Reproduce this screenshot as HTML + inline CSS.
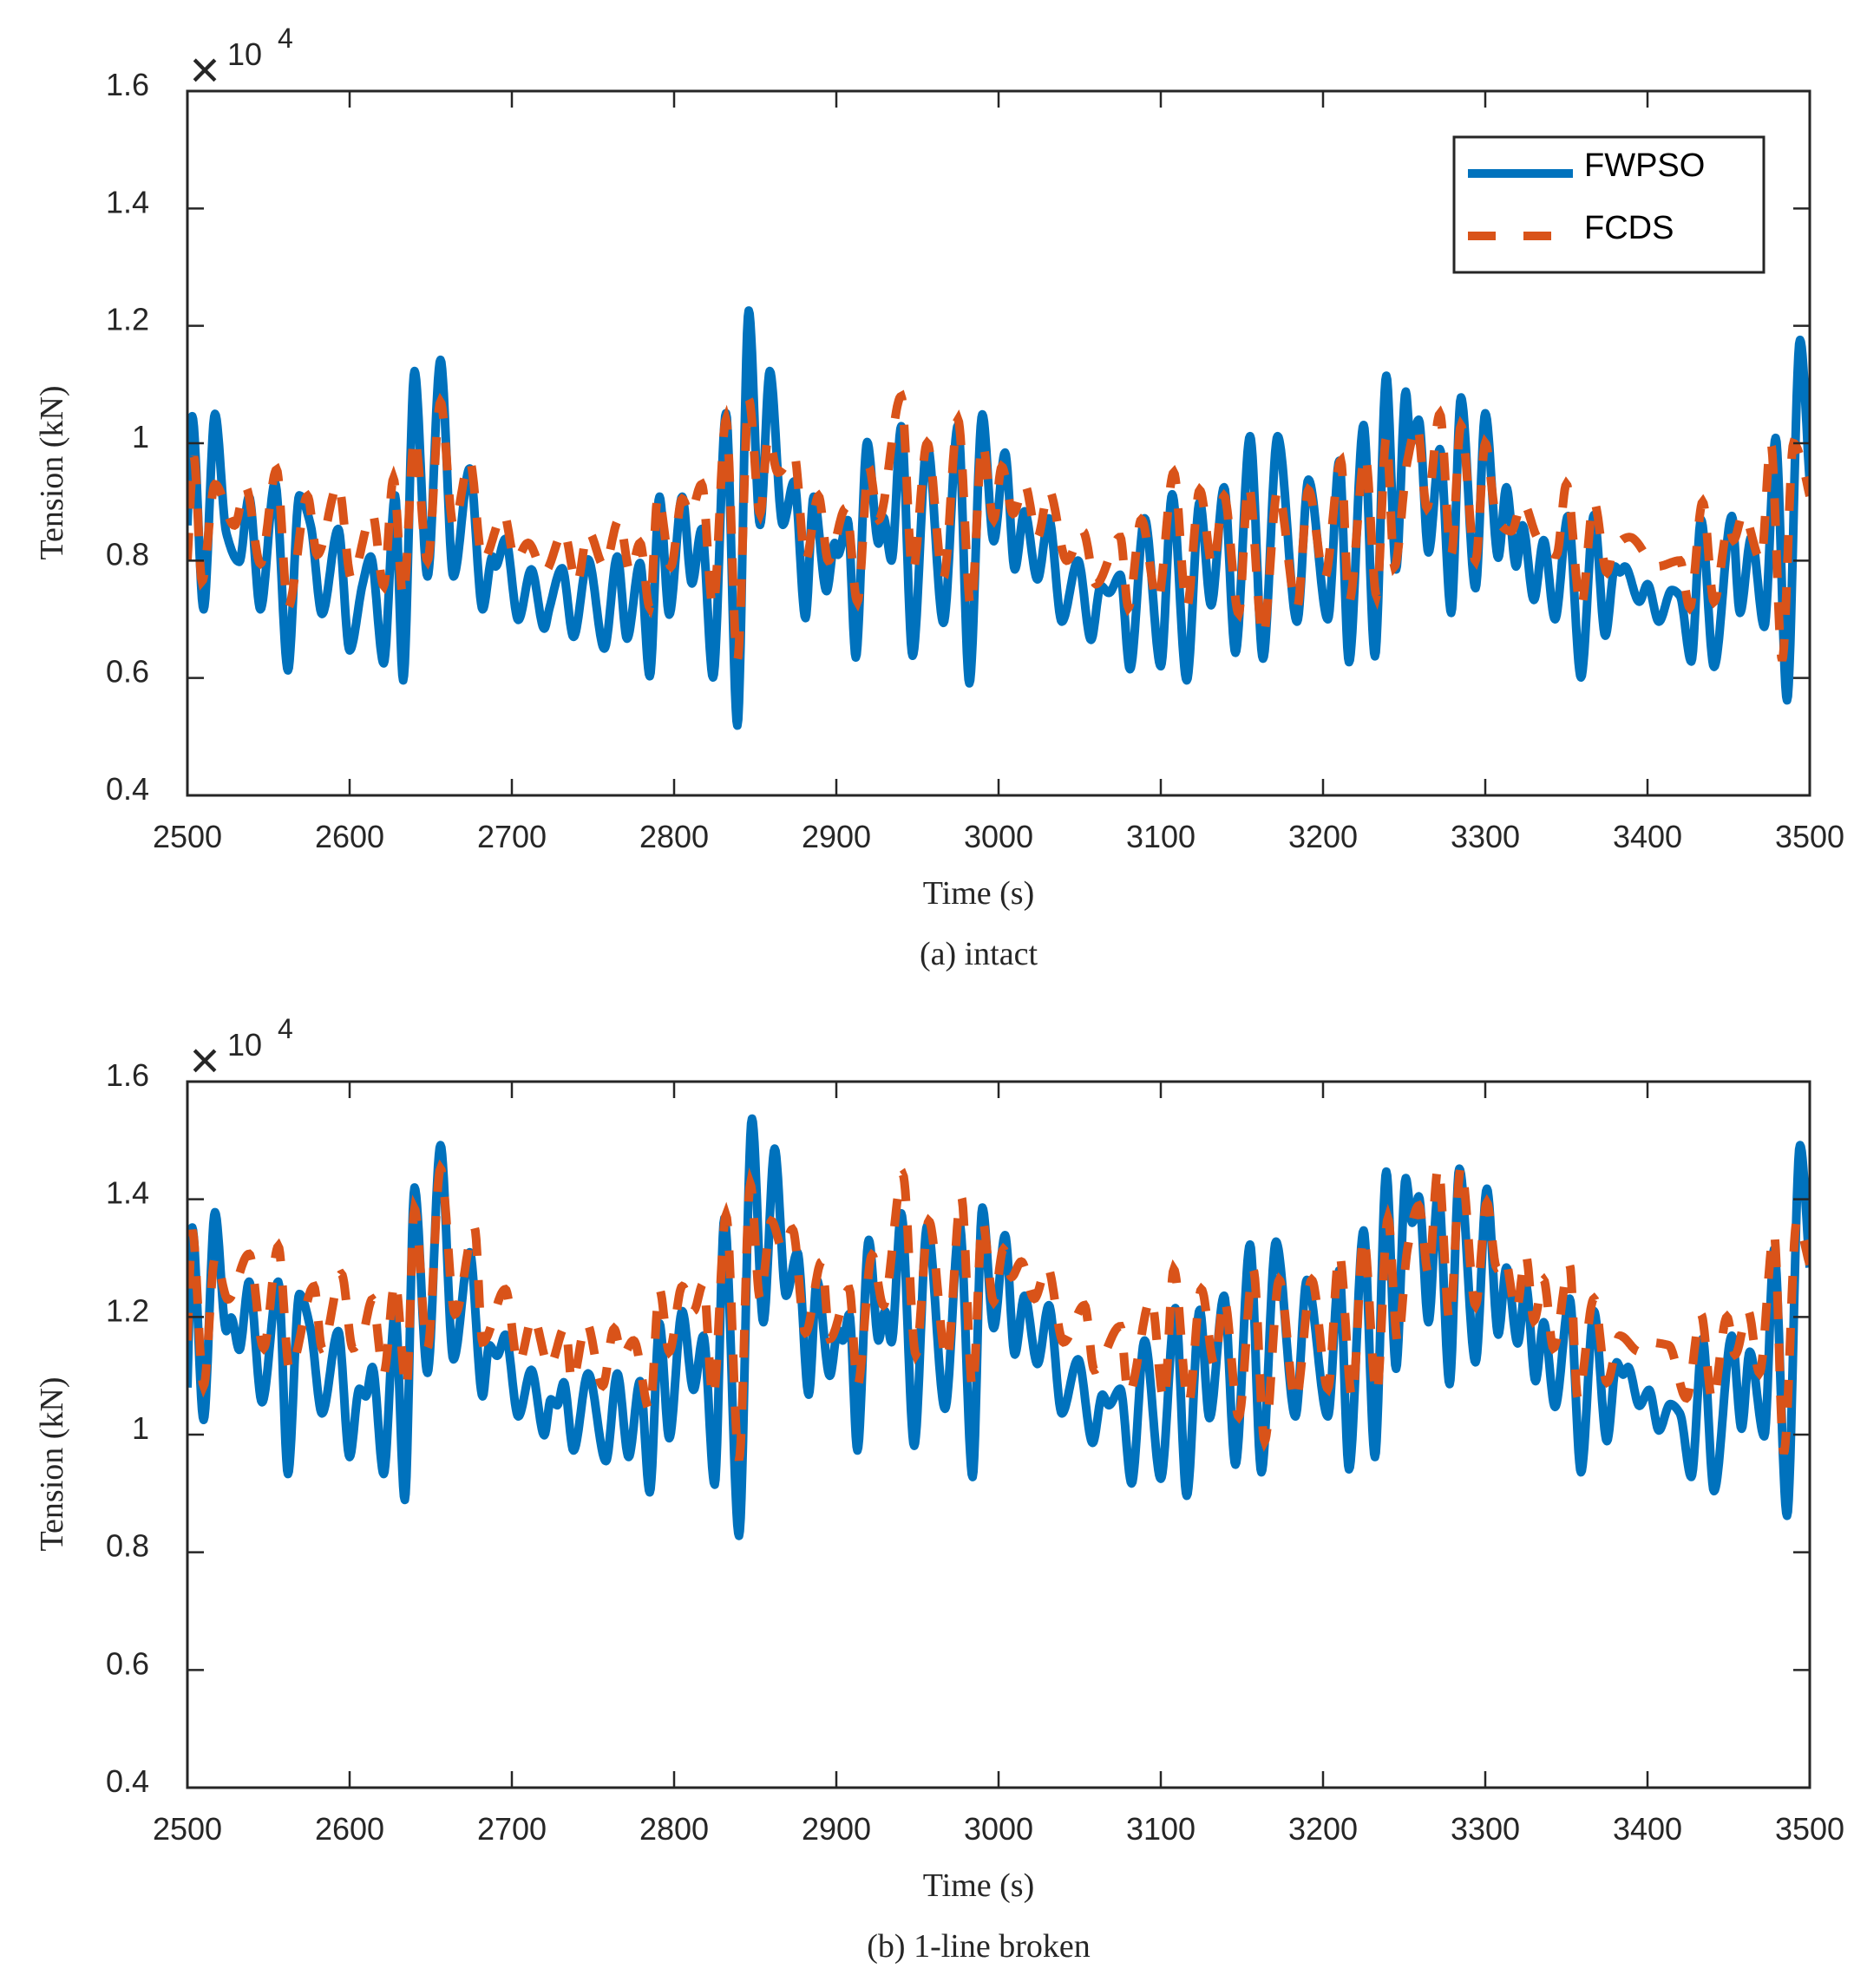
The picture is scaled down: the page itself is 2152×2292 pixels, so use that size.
<!DOCTYPE html>
<html><head><meta charset="utf-8"><style>
html,body{margin:0;padding:0;background:#fff;}
svg{display:block;}
.tk{font-family:"Liberation Sans",sans-serif;font-size:36px;fill:#262626;}
.sf{font-family:"Liberation Serif",serif;font-size:38px;fill:#262626;}
</style></head><body>
<svg id="fig" width="2152" height="2292" viewBox="0 0 2152 2292" xmlns="http://www.w3.org/2000/svg">
<rect width="2152" height="2292" fill="#fff"/>
<g id="panelA"></g>
<g id="panelB"></g>
</svg>
<script>
// ---- Panel (a) intact ----
const tA_blue = [2500,2503,2510,2517,2524,2532,2538,2545,2554,2562,2569,2576,2583,2593,2600,2608,2613,2621,2628,2633,2640,2648,2656,2664,2674,2682,2688,2690,2696,2704,2712,2720,2723,2731,2738,2747,2757,2765,2771,2779,2785,2791,2797,2805,2811,2817,2824,2832,2839,2846,2853,2859,2867,2874,2881,2886,2894,2899,2901,2907,2912,2919,2926,2929,2934,2940,2947,2956,2966,2975,2982,2990,2997,3004,3010,3016,3024,3031,3039,3049,3057,3063,3068,3075,3081,3090,3100,3107,3116,3124,3131,3139,3146,3155,3163,3172,3184,3191,3203,3210,3216,3225,3232,3239,3245,3251,3254,3259,3265,3272,3279,3285,3294,3300,3308,3313,3319,3323,3330,3336,3343,3351,3359,3367,3374,3380,3383,3386,3395,3400,3407,3415,3420,3427,3433,3441,3452,3457,3464,3472,3479,3486,3494,3500];
const vA_blue = [0.86,1.046,0.717,1.05,0.847,0.798,0.909,0.717,0.933,0.613,0.911,0.86,0.709,0.854,0.647,0.76,0.807,0.625,0.911,0.596,1.123,0.773,1.142,0.773,0.957,0.717,0.807,0.79,0.837,0.699,0.785,0.684,0.717,0.787,0.67,0.802,0.65,0.807,0.667,0.796,0.603,0.909,0.708,0.909,0.761,0.854,0.601,1.051,0.519,1.226,0.861,1.123,0.861,0.935,0.702,0.909,0.748,0.83,0.81,0.869,0.635,1.002,0.829,0.874,0.80,1.029,0.638,1.0,0.694,1.031,0.591,1.049,0.833,0.984,0.785,0.884,0.768,0.872,0.696,0.80,0.665,0.757,0.745,0.776,0.615,0.872,0.62,0.913,0.596,0.90,0.724,0.925,0.643,1.012,0.633,1.012,0.696,0.938,0.70,0.97,0.627,1.031,0.637,1.115,0.785,1.088,1.0,1.04,0.814,0.99,0.711,1.078,0.753,1.051,0.805,0.925,0.79,0.86,0.733,0.835,0.70,0.876,0.601,0.878,0.672,0.79,0.78,0.79,0.73,0.76,0.696,0.75,0.74,0.628,0.87,0.619,0.876,0.711,0.84,0.687,1.009,0.562,1.176,0.933];
const tA_orange = [2500,2504,2509,2517,2529,2536,2545,2555,2562,2574,2580,2593,2601,2614,2621,2627,2633,2640,2648,2656,2664,2674,2682,2695,2702,2710,2720,2732,2740,2747,2757,2766,2773,2779,2785,2790,2798,2805,2810,2817,2824,2832,2839,2846,2853,2858,2864,2874,2881,2889,2895,2906,2913,2920,2926,2940,2947,2956,2966,2975,2983,2990,2997,3002,3009,3016,3024,3031,3042,3052,3060,3075,3080,3088,3098,3108,3116,3124,3132,3139,3148,3154,3163,3172,3184,3191,3201,3211,3216,3226,3233,3239,3244,3252,3258,3264,3272,3279,3285,3294,3300,3307,3316,3323,3332,3344,3350,3359,3367,3375,3379,3389,3406,3420,3426,3434,3441,3450,3453,3459,3470,3476,3483,3490,3495,3500];
const vA_orange = [0.80,0.977,0.765,0.93,0.86,0.925,0.795,0.955,0.72,0.91,0.81,0.93,0.77,0.88,0.757,0.94,0.738,1.01,0.80,1.07,0.86,0.97,0.80,0.88,0.80,0.83,0.78,0.85,0.76,0.85,0.79,0.87,0.78,0.83,0.72,0.91,0.79,0.905,0.88,0.93,0.72,1.04,0.63,1.075,0.88,1.01,0.95,0.98,0.80,0.91,0.80,0.89,0.73,0.96,0.87,1.08,0.78,1.0,0.77,1.04,0.72,1.0,0.87,0.96,0.88,0.93,0.84,0.92,0.80,0.85,0.76,0.84,0.72,0.87,0.73,0.95,0.72,0.92,0.79,0.91,0.71,0.93,0.67,0.92,0.72,0.92,0.77,0.97,0.73,0.98,0.74,1.01,0.79,0.97,1.03,0.89,1.05,0.81,1.03,0.80,1.0,0.87,0.85,0.90,0.84,0.81,0.93,0.72,0.90,0.78,0.82,0.84,0.79,0.80,0.72,0.90,0.73,0.86,0.835,0.88,0.80,1.0,0.63,1.0,0.97,0.91];
// ---- Panel (b) 1-line broken ----
const tB_blue = [2500,2503,2510,2517,2524,2527,2532,2538,2546,2556,2562,2569,2576,2583,2593,2600,2606,2610,2614,2621,2628,2634,2640,2648,2656,2664,2674,2682,2686,2691,2696,2704,2712,2720,2724,2728,2732,2738,2747,2758,2765,2772,2779,2785,2791,2797,2805,2812,2818,2825,2831,2840,2848,2855,2862,2869,2876,2883,2888,2896,2901,2904,2908,2913,2920,2926,2930,2934,2940,2948,2956,2967,2976,2984,2990,2997,3004,3010,3016,3024,3031,3039,3049,3058,3064,3068,3075,3082,3090,3100,3109,3116,3124,3130,3139,3146,3155,3162,3171,3183,3190,3203,3210,3216,3225,3232,3239,3245,3251,3255,3259,3265,3271,3278,3284,3294,3301,3308,3313,3320,3325,3331,3336,3343,3352,3359,3367,3375,3381,3385,3388,3395,3401,3407,3414,3420,3427,3434,3441,3452,3458,3463,3472,3478,3486,3494,3500];
const vB_blue = [1.08,1.352,1.025,1.378,1.176,1.199,1.144,1.26,1.055,1.26,0.933,1.239,1.178,1.036,1.176,0.962,1.078,1.065,1.115,0.933,1.21,0.889,1.42,1.105,1.492,1.128,1.31,1.065,1.152,1.134,1.17,1.031,1.11,0.999,1.06,1.05,1.089,0.973,1.104,0.955,1.104,0.962,1.091,0.902,1.189,0.994,1.21,1.076,1.168,0.915,1.368,0.828,1.537,1.191,1.486,1.236,1.31,1.068,1.263,1.10,1.178,1.16,1.205,0.973,1.331,1.16,1.21,1.157,1.376,0.981,1.355,1.044,1.357,0.928,1.386,1.181,1.339,1.136,1.236,1.12,1.22,1.036,1.128,0.986,1.068,1.05,1.078,0.917,1.16,0.925,1.215,0.896,1.212,1.028,1.236,0.949,1.323,0.936,1.328,1.031,1.263,1.031,1.279,0.941,1.347,0.962,1.447,1.112,1.436,1.36,1.405,1.191,1.415,1.086,1.452,1.123,1.418,1.17,1.284,1.155,1.255,1.091,1.191,1.047,1.231,0.936,1.21,0.989,1.123,1.102,1.115,1.049,1.076,1.007,1.052,1.036,0.928,1.163,0.904,1.168,1.01,1.141,0.997,1.315,0.862,1.492,1.284];
const tB_orange = [2500,2503,2510,2517,2525,2538,2547,2556,2563,2578,2583,2595,2602,2608,2614,2621,2628,2635,2640,2648,2656,2665,2677,2682,2696,2704,2713,2723,2733,2737,2746,2756,2763,2768,2775,2785,2791,2797,2805,2812,2818,2824,2832,2840,2847,2853,2860,2867,2873,2881,2891,2896,2908,2913,2922,2929,2941,2949,2957,2968,2977,2984,2990,2997,3003,3008,3014,3022,3030,3040,3053,3059,3075,3080,3094,3102,3108,3117,3125,3133,3139,3148,3157,3164,3173,3183,3193,3203,3210,3218,3225,3233,3240,3246,3252,3259,3265,3271,3278,3285,3294,3301,3307,3312,3319,3325,3330,3336,3342,3352,3357,3367,3375,3383,3395,3399,3413,3424,3433,3440,3449,3454,3462,3469,3478,3484,3492,3500];
const vB_orange = [1.16,1.347,1.083,1.30,1.23,1.307,1.147,1.32,1.11,1.252,1.147,1.273,1.147,1.17,1.23,1.104,1.26,1.078,1.384,1.147,1.452,1.205,1.352,1.157,1.247,1.12,1.20,1.115,1.184,1.09,1.19,1.083,1.18,1.134,1.16,1.041,1.247,1.141,1.252,1.21,1.257,1.062,1.373,0.957,1.426,1.231,1.363,1.315,1.349,1.173,1.294,1.163,1.247,1.083,1.305,1.22,1.442,1.136,1.363,1.126,1.405,1.078,1.363,1.226,1.315,1.268,1.294,1.231,1.286,1.157,1.22,1.11,1.184,1.068,1.231,1.057,1.281,1.052,1.247,1.12,1.231,1.031,1.281,0.989,1.263,1.057,1.263,1.078,1.307,1.062,1.336,1.068,1.368,1.157,1.315,1.389,1.273,1.455,1.194,1.455,1.22,1.394,1.284,1.30,1.21,1.305,1.194,1.263,1.147,1.289,1.062,1.231,1.089,1.168,1.141,1.157,1.152,1.062,1.205,1.057,1.20,1.136,1.21,1.105,1.342,0.968,1.363,1.289];
const xTicks = [2500,2600,2700,2800,2900,3000,3100,3200,3300,3400,3500];
const yTicks = [0.4,0.6,0.8,1.0,1.2,1.4,1.6];
const yTickLabels = ["0.4","0.6","0.8","1","1.2","1.4","1.6"];

const NS = "http://www.w3.org/2000/svg";
const XL = 216, XR = 2086;
function mk(tag, attrs, parent) {
  const e = document.createElementNS(NS, tag);
  for (const k in attrs) e.setAttribute(k, attrs[k]);
  parent.appendChild(e);
  return e;
}
function smooth(ts, vs) {
  const n = ts.length, d = [], m = new Array(n).fill(0);
  for (let i = 0; i < n - 1; i++) d.push((vs[i+1]-vs[i])/(ts[i+1]-ts[i]));
  m[0] = d[0]; m[n-1] = d[n-2];
  for (let i = 1; i < n - 1; i++) {
    if (d[i-1]*d[i] <= 0) m[i] = 0;
    else { const h0 = ts[i]-ts[i-1], h1 = ts[i+1]-ts[i];
      m[i] = 3*(h0+h1)/((2*h1+h0)/d[i-1] + (h1+2*h0)/d[i]); }
  }
  const out = [];
  for (let i = 0; i < n - 1; i++) {
    const h = ts[i+1]-ts[i], steps = Math.max(4, Math.round(h*2));
    for (let s = 0; s < steps; s++) {
      const u = s/steps, u2 = u*u, u3 = u2*u;
      const v = (2*u3-3*u2+1)*vs[i] + (u3-2*u2+u)*h*m[i] + (-2*u3+3*u2)*vs[i+1] + (u3-u2)*h*m[i+1];
      out.push([ts[i]+u*h, v]);
    }
  }
  out.push([ts[n-1], vs[n-1]]);
  return out;
}
function drawPanel(g, yTop, yBot, blueT, blueV, orT, orV, caption, withLegend, id) {
  const xS = t => XL + (t-2500)/1000*(XR-XL);
  const yS = v => yBot - (v-0.4)/1.2*(yBot-yTop);
  const clip = mk("clipPath", {id: "clip"+id}, g);
  mk("rect", {x: XL, y: yTop, width: XR-XL, height: yBot-yTop}, clip);
  const sg = mk("g", {"clip-path": "url(#clip"+id+")"}, g);
  const pb = smooth(blueT, blueV).map(p => xS(p[0]).toFixed(1)+","+yS(p[1]).toFixed(1)).join(" ");
  const po = smooth(orT, orV).map(p => xS(p[0]).toFixed(1)+","+yS(p[1]).toFixed(1)).join(" ");
  const lb = mk("polyline", {points: pb, fill: "none", stroke: "#0072BD", "stroke-width": 10, "stroke-linejoin": "round"}, sg);
  
  
  const lo = mk("polyline", {points: po, fill: "none", stroke: "#D95319", "stroke-width": 10, "stroke-dasharray": "32 28"}, sg);
  
  
  const box = mk("rect", {x: XL, y: yTop, width: XR-XL, height: yBot-yTop, fill: "none", stroke: "#262626", "stroke-width": 3}, g);
  
  
  xTicks.forEach(t => {
    const x = xS(t);
    mk("line", {x1: x, y1: yBot, x2: x, y2: yBot-19, stroke: "#262626", "stroke-width": 2.5}, g);
    mk("line", {x1: x, y1: yTop, x2: x, y2: yTop+19, stroke: "#262626", "stroke-width": 2.5}, g);
    const tx = mk("text", {x: x, y: yBot+60, "text-anchor": "middle", class: "tk"}, g);
    tx.textContent = t;
    
    
  });
  yTicks.forEach((v, i) => {
    const y = yS(v);
    mk("line", {x1: XL, y1: y, x2: XL+19, y2: y, stroke: "#262626", "stroke-width": 2.5}, g);
    mk("line", {x1: XR, y1: y, x2: XR-19, y2: y, stroke: "#262626", "stroke-width": 2.5}, g);
    const ty = mk("text", {x: 172, y: y+5, "text-anchor": "end", class: "tk"}, g);
    ty.textContent = yTickLabels[i];
    
    
  });
  const mul = mk("text", {x: 236, y: yTop-4, class: "tk", style: "font-size:60px", "text-anchor": "middle"}, g);
  mul.textContent = "\u00D7";
  
  
  const ten = mk("text", {x: 262, y: yTop-30, class: "tk"}, g);
  ten.textContent = "10";
  
  
  const ex = mk("text", {x: 320, y: yTop-50, class: "tk", style: "font-size:32px"}, g);
  ex.textContent = "4";
  
  
  const yt = mk("text", {x: 0, y: 0, class: "sf", "text-anchor": "middle", transform: "translate(72," + ((yTop+yBot)/2+34) + ") rotate(-90)"}, g);
  yt.textContent = "Tension (kN)";
  
  
  const xt = mk("text", {x: 1128, y: yBot+125, class: "sf", "text-anchor": "middle"}, g);
  xt.textContent = "Time (s)";
  
  
  const cap = mk("text", {x: 1128, y: yBot+195, class: "sf", "text-anchor": "middle"}, g);
  cap.textContent = caption;
  
  
  if (withLegend) {
    const lg = mk("g", {}, g);
    
    
    mk("rect", {x: 1676, y: 158, width: 357, height: 156, fill: "#fff", stroke: "#262626", "stroke-width": 3}, lg);
    mk("line", {x1: 1692, y1: 200, x2: 1813, y2: 200, stroke: "#0072BD", "stroke-width": 10}, lg);
    mk("line", {x1: 1692, y1: 272, x2: 1820, y2: 272, stroke: "#D95319", "stroke-width": 10, "stroke-dasharray": "32 32"}, lg);
    const t1 = mk("text", {x: 1826, y: 203, class: "tk", style: "font-size:38px;fill:#000"}, lg);
    t1.textContent = "FWPSO";
    
    
    const t2 = mk("text", {x: 1826, y: 275, class: "tk", style: "font-size:38px;fill:#000"}, lg);
    t2.textContent = "FCDS";
    
    
  }
}
drawPanel(document.getElementById("panelA"), 105, 917, tA_blue, vA_blue, tA_orange, vA_orange, "(a) intact", true, "a");
drawPanel(document.getElementById("panelB"), 1247, 2061, tB_blue, vB_blue, tB_orange, vB_orange, "(b) 1-line broken", false, "b");
</script>
</body></html>
